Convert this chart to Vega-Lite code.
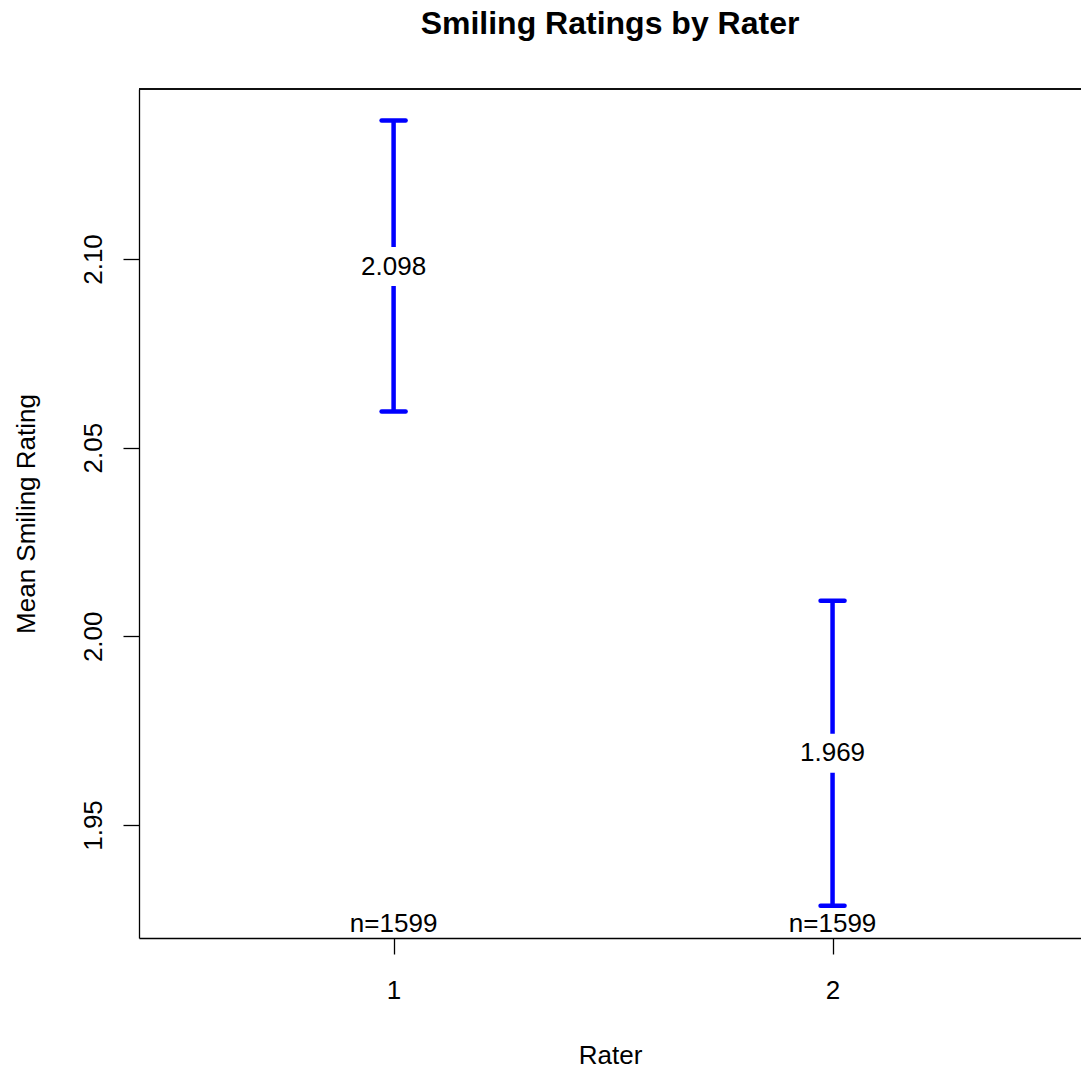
{
  "$schema": "https://vega.github.io/schema/vega-lite/v6.json",
  "autosize": {"type": "none"},
  "padding": {"left": 139, "top": 89, "right": 0, "bottom": 136},
  "width": 942,
  "height": 849,
  "background": "white",
  "config": {
    "font": "Liberation Sans",
    "view": {"stroke": null},
    "axis": {
      "grid": false,
      "domainColor": "black",
      "domainWidth": 1.3,
      "tickColor": "black",
      "tickWidth": 1.3,
      "tickSize": 16,
      "labelColor": "black",
      "labelFontSize": 26,
      "labelFont": "Liberation Sans",
      "titleColor": "black",
      "titleFontSize": 26,
      "titleFont": "Liberation Sans",
      "titleFontWeight": "normal"
    }
  },
  "title": {
    "text": "Smiling Ratings by Rater",
    "fontSize": 32,
    "fontWeight": "bold",
    "font": "Liberation Sans",
    "color": "black",
    "anchor": "middle",
    "frame": "group",
    "baseline": "alphabetic",
    "offset": 22
  },
  "data": {
    "values": [
      {"rater": 1, "mean": 2.098, "lower": 2.0596, "upper": 2.1367, "n_label": "n=1599"},
      {"rater": 2, "mean": 1.969, "lower": 1.9286, "upper": 2.0094, "n_label": "n=1599"}
    ]
  },
  "layer": [
    {
      "mark": {"type": "rule", "color": "#0000FF", "strokeWidth": 4.5},
      "encoding": {
        "x": {
          "field": "rater", "type": "quantitative",
          "scale": {"domain": [0.42, 2.566], "nice": false, "zero": false},
          "axis": {"values": [1, 2], "format": "d", "title": "Rater", "labelPadding": 23, "titlePadding": 39, "labelFlush": false}
        },
        "y": {
          "field": "lower", "type": "quantitative",
          "scale": {"domain": [1.92005, 2.14505], "nice": false, "zero": false},
          "axis": {"values": [1.95, 2.0, 2.05, 2.1], "format": ".2f", "title": "Mean Smiling Rating", "labelAngle": -90, "labelAlign": "center", "labelBaseline": "bottom", "labelPadding": 17, "titlePadding": 41, "labelFlush": false}
        },
        "y2": {"field": "upper"}
      }
    },
    {
      "mark": {"type": "point", "shape": "square", "filled": true, "color": "white", "opacity": 1, "size": 1521, "strokeWidth": 0},
      "encoding": {
        "x": {"field": "rater", "type": "quantitative"},
        "y": {"field": "mean", "type": "quantitative"}
      }
    },
    {
      "mark": {"type": "rule", "color": "#0000FF", "strokeWidth": 4.5, "strokeCap": "round", "xOffset": -12, "x2Offset": 12},
      "encoding": {
        "x": {"field": "rater", "type": "quantitative"},
        "x2": {"field": "rater"},
        "y": {"field": "upper", "type": "quantitative"}
      }
    },
    {
      "mark": {"type": "rule", "color": "#0000FF", "strokeWidth": 4.5, "strokeCap": "round", "xOffset": -12, "x2Offset": 12},
      "encoding": {
        "x": {"field": "rater", "type": "quantitative"},
        "x2": {"field": "rater"},
        "y": {"field": "lower", "type": "quantitative"}
      }
    },
    {
      "mark": {"type": "text", "fontSize": 26, "color": "black", "baseline": "middle", "align": "center"},
      "encoding": {
        "x": {"field": "rater", "type": "quantitative"},
        "y": {"field": "mean", "type": "quantitative"},
        "text": {"field": "mean", "type": "quantitative", "format": ".3f"}
      }
    },
    {
      "mark": {"type": "text", "fontSize": 26, "color": "black", "baseline": "alphabetic", "align": "center", "dy": -6},
      "encoding": {
        "x": {"field": "rater", "type": "quantitative"},
        "y": {"datum": 1.92005, "type": "quantitative"},
        "text": {"field": "n_label", "type": "nominal"}
      }
    },
    {
      "mark": {"type": "rule", "color": "black", "strokeWidth": 1.3},
      "encoding": {
        "y": {"datum": 2.14505, "type": "quantitative"}
      }
    }
  ]
}
